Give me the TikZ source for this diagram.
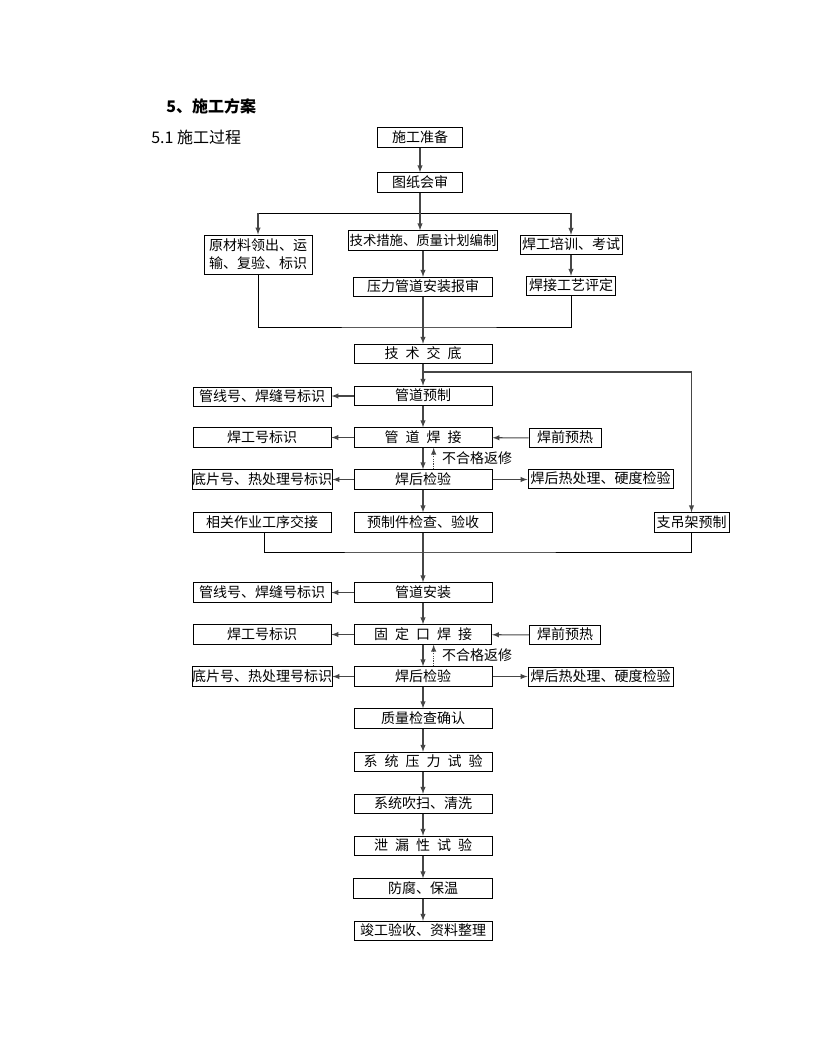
\documentclass[tikz,border=0pt]{standalone}
\usepackage{fontspec}
\setmainfont{Noto Sans CJK SC}
\usetikzlibrary{arrows,positioning,calc}
\definecolor{linkgray}{RGB}{70,70,70}
\tikzset{
  box/.style={draw, line width=0.75pt, inner sep=0pt, minimum height=14.5pt,
    text height=8.6pt, text depth=1.4pt, font=\fontsize{10.5}{12}\selectfont},
  box2/.style={draw, line width=0.75pt, inner sep=0pt, minimum height=29.25pt,
    align=center, font=\fontsize{10.5}{13.5}\selectfont},
  wd/.style={minimum width=#1*0.75pt},
  link/.style={line width=0.8pt, draw=linkgray, -latex},
  plain/.style={line width=0.75pt},
  redo/.style={right, inner xsep=6pt, font=\fontsize{10.5}{12}\selectfont},
}
\newcommand{\jg}{\hspace{0.5em}}

\begin{document}
\begin{tikzpicture}[x=0.75pt, y=-0.75pt]
    \useasboundingbox (0,0) rectangle (816,1056);

    % Headings
    \node[anchor=west, inner sep=0pt, font=\fontsize{12}{14}\selectfont\bfseries] (title) at (166,106) {5、施工方案};
    \node[anchor=west, inner sep=0pt, font=\fontsize{12}{14}\selectfont] (subtitle) at (151,137) {5.1 施工过程};

    % Preparation
    \node[box, wd=85] (zhunbei) at (420,137.5) {施工准备};
    \node[box, wd=85] (huishen) at (420,182.5) {图纸会审};
    \node[box2, wd=108] (cailiao) at (258,254.5) {原材料领出、运\\输、复验、标识};
    \node[box, wd=149, font=\fontsize{10}{12}\selectfont] (cuoshi) at (423,240.5) {技术措施、质量计划编制};
    \node[box, wd=102] (peixun) at (571,245) {焊工培训、考试};
    \node[box, wd=139] (baoshen) at (423,287) {压力管道安装报审};
    \node[box, wd=89] (pingding) at (571,286) {焊接工艺评定};
    \node[box, wd=138] (jiaodi) at (423,354) {技\jg 术\jg 交\jg 底};

    % Prefabrication
    \node[box, wd=138] (yuzhi) at (423,396) {管道预制};
    \node[box, wd=138] (hanfeng1) at (262,397) {管线号、焊缝号标识};
    \node[box, wd=138] (hanjie) at (423,437.5) {管\jg 道\jg 焊\jg 接};
    \node[box, wd=138] (hangong1) at (262,437.5) {焊工号标识};
    \node[box, wd=72] (yure1) at (565,438) {焊前预热};
    \node[box, wd=138] (jianyan1) at (423,479.5) {焊后检验};
    \node[box, wd=138] (dipian1) at (262,479.5) {底片号、热处理号标识};
    \node[box, wd=145] (rechuli1) at (600.5,479) {焊后热处理、硬度检验};
    \node[box, wd=138] (yanshou) at (423,522.5) {预制件检查、验收};
    \node[box, wd=138] (jiaojie) at (262,522.5) {相关作业工序交接};
    \node[box, wd=75] (zhijia) at (691.5,522.5) {支吊架预制};

    % Installation
    \node[box, wd=138] (anzhuang) at (423,592.5) {管道安装};
    \node[box, wd=138] (hanfeng2) at (262,592.5) {管线号、焊缝号标识};
    \node[box, wd=137] (gudingkou) at (423,634.5) {固\jg 定\jg 口\jg 焊\jg 接};
    \node[box, wd=138] (hangong2) at (262,634.5) {焊工号标识};
    \node[box, wd=71] (yure2) at (565,635) {焊前预热};
    \node[box, wd=138] (jianyan2) at (423,676.5) {焊后检验};
    \node[box, wd=138] (dipian2) at (262,676.5) {底片号、热处理号标识};
    \node[box, wd=145] (rechuli2) at (600.5,677) {焊后热处理、硬度检验};

    % Testing and handover
    \node[box, wd=138] (queren) at (423,718.5) {质量检查确认};
    \node[box, wd=138] (shiya) at (423,762) {系\jg 统\jg 压\jg 力\jg 试\jg 验};
    \node[box, wd=138] (chuisao) at (423,804) {系统吹扫、清洗};
    \node[box, wd=138] (xielou) at (423,846) {泄\jg 漏\jg 性\jg 试\jg 验};
    \node[box, wd=139] (fangfu) at (423,888.5) {防腐、保温};
    \node[box, wd=138] (jungong) at (423,931) {竣工验收、资料整理};

    % Fork and join lines
    \coordinate (fork) at (420,213);
    \coordinate (join) at (423,327);
    \coordinate (tap) at (423,372);
    \coordinate (join2) at (423,552);

    \draw[link] (zhunbei) -- (huishen);
    \draw[plain] (fork -| cailiao.north) -- (fork -| peixun.north);
    \draw[link] (fork -| cailiao.north) -- (cailiao.north);
    \draw[link] (fork -| peixun.north) -- (peixun.north);
    \draw[link] (huishen.south) -- (huishen.south |- cuoshi.north);
    \draw[link] (cuoshi) -- (baoshen);
    \draw[link] (peixun) -- (pingding);
    \draw[plain] (cailiao.south) |- (join) -| (pingding.south);
    \draw[link] (baoshen) -- (jiaodi);
    \draw[link] (tap) -| (zhijia.north);

    % Prefabrication links
    \draw[link] (jiaodi) -- (yuzhi);
    \draw[link] (yuzhi) -- (hanfeng1.east |- yuzhi);
    \draw[link] (yuzhi) -- (hanjie);
    \draw[link] (hanjie) -- (hangong1);
    \draw[link] (yure1) -- (hanjie);
    \draw[link] (hanjie) -- (jianyan1);
    \draw[link, densely dotted] ([xshift=8pt]jianyan1.north) -- ([xshift=8pt]hanjie.south)
        node[midway, redo] {不合格返修};
    \draw[link] (jianyan1) -- (dipian1);
    \draw[link] (jianyan1) -- (rechuli1.west |- jianyan1);
    \draw[link] (jianyan1) -- (yanshou);
    \draw[plain] ([xshift=1.5pt]jiaojie.south) |- (join2) -| (zhijia.south);
    \draw[link] (yanshou) -- (anzhuang);

    % Installation links
    \draw[link] (anzhuang) -- (hanfeng2);
    \draw[link] (anzhuang) -- (gudingkou);
    \draw[link] (gudingkou) -- (hangong2);
    \draw[link] (yure2) -- (gudingkou);
    \draw[link] (gudingkou) -- (jianyan2);
    \draw[link, densely dotted] ([xshift=8pt]jianyan2.north) -- ([xshift=8pt]gudingkou.south)
        node[midway, redo] {不合格返修};
    \draw[link] (jianyan2) -- (dipian2);
    \draw[link] (jianyan2) -- (rechuli2.west |- jianyan2);
    \draw[link] (jianyan2) -- (queren);

    % Testing chain
    \foreach \a/\b in {queren/shiya, shiya/chuisao, chuisao/xielou, xielou/fangfu, fangfu/jungong}
        \draw[link] (\a) -- (\b);
\end{tikzpicture}
\end{document}
